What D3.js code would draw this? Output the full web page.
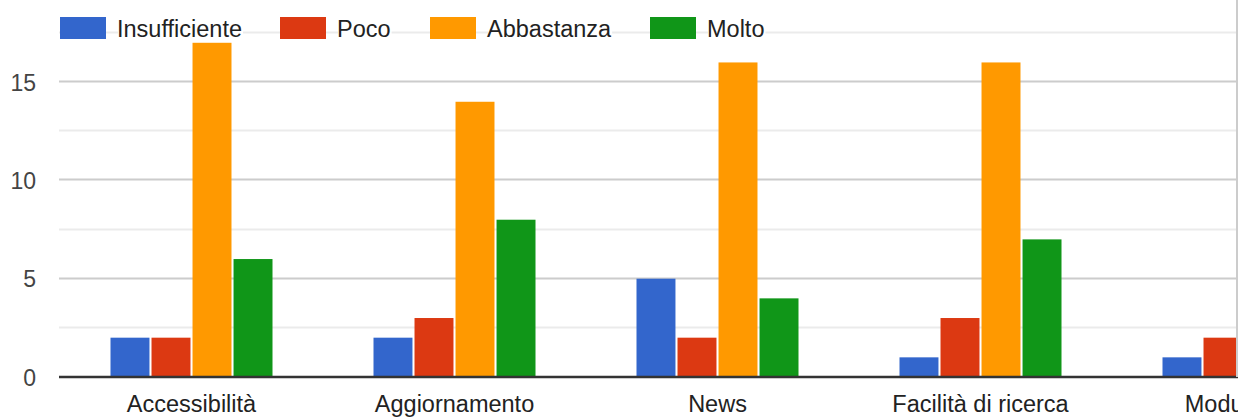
<!DOCTYPE html>
<html>
<head>
<meta charset="utf-8">
<script src="https://cdn.jsdelivr.net/npm/d3@7"></script>
<style>
  html, body { margin: 0; padding: 0; background: #fff; overflow: hidden; }
  svg { display: block; font-family: Arial, "Liberation Sans", sans-serif; }
</style>
</head>
<body>
<div id="chart"></div>
<script>
const categories = ["Accessibilità", "Aggiornamento", "News", "Facilità di ricerca", "Modulistica"];
const series = ["Insufficiente", "Poco", "Abbastanza", "Molto"];
const insufficiente = [2, 2, 5, 1, 1];
const poco = [2, 3, 2, 3, 2];
const abbastanza = [17, 14, 16, 16, 14];
const molto = [6, 8, 4, 7, 6];
const colors = ["#3366cc", "#dc3912", "#ff9900", "#109618"];
const majorTicks = [0, 5, 10, 15];
const minorTicks = [2.5, 7.5, 12.5, 17.5];

(function () {
const values = [insufficiente, poco, abbastanza, molto];
const W = 1238, H = 417;
const plotLeft = 60, plotBottom = 377, band = 263;
const FONT = "Arial, 'Liberation Sans', sans-serif";

const svg = d3.select("#chart").append("svg").attr("width", W).attr("height", H);

const x = d3.scaleBand().domain(categories).range([plotLeft, plotLeft + band * categories.length]).padding(0);
const y = d3.scaleLinear().domain([0, 17.5]).range([plotBottom, plotBottom - 17.5 * 19.66]);
const xs = d3.scaleBand().domain(series).range([-81, 81]).paddingInner(0.05);

// minor gridlines
svg.append("g").selectAll("line").data(minorTicks).join("line")
  .attr("x1", plotLeft - 1).attr("x2", W)
  .attr("y1", d => Math.round(y(d)) - 0.5).attr("y2", d => Math.round(y(d)) - 0.5)
  .attr("stroke", "#ebebeb").attr("stroke-width", 2);

// major gridlines
svg.append("g").selectAll("line").data(majorTicks.filter(d => d > 0)).join("line")
  .attr("x1", plotLeft - 1).attr("x2", W)
  .attr("y1", d => Math.round(y(d)) - 0.5).attr("y2", d => Math.round(y(d)) - 0.5)
  .attr("stroke", "#cccccc").attr("stroke-width", 2);

// y axis labels
const yAxis = d3.axisLeft(y).tickValues(majorTicks).tickSize(0).tickPadding(0).tickFormat(d3.format("d"));
const ya = svg.append("g").attr("transform", `translate(36,0)`).call(yAxis);
ya.select(".domain").remove();
ya.selectAll("text").attr("font-size", 23).attr("fill", "#444").attr("font-family", FONT).attr("dy", "0.36em");

// bars
const groups = svg.append("g").selectAll("g").data(categories).join("g")
  .attr("transform", c => `translate(${x(c) + x.bandwidth() / 2},0)`);
groups.selectAll("rect").data((c, i) => series.map((s, j) => ({ s, j, v: values[j][i] }))).join("rect")
  .attr("x", d => xs(d.s)).attr("width", xs.bandwidth())
  .attr("y", d => y(d.v)).attr("height", d => plotBottom - y(d.v))
  .attr("fill", d => colors[d.j]);

// baseline
svg.append("line").attr("x1", plotLeft - 1).attr("x2", W).attr("y1", plotBottom).attr("y2", plotBottom)
  .attr("stroke", "#333").attr("stroke-width", 2.5);

// x axis labels
const xAxis = d3.axisBottom(x).tickSize(0).tickPadding(0);
const xa = svg.append("g").attr("transform", `translate(0,${plotBottom})`).call(xAxis);
xa.select(".domain").remove();
xa.selectAll("text").attr("font-size", 23.5).attr("fill", "#222").attr("font-family", FONT)
  .attr("dy", null).attr("y", 35);

// right border line
svg.append("line").attr("x1", 1237).attr("x2", 1237).attr("y1", 0).attr("y2", plotBottom)
  .attr("stroke", "#cccccc").attr("stroke-width", 2);

// legend
const legendX = [60, 280, 430, 650];
const lg = svg.append("g").selectAll("g").data(series).join("g")
  .attr("transform", (d, i) => `translate(${legendX[i]},17)`);
lg.append("rect").attr("class", "bg").attr("x", 58).attr("y", 0).attr("height", 24)
  .attr("width", 100).attr("fill", "#fff");
lg.append("rect").attr("width", 46).attr("height", 22).attr("fill", (d, i) => colors[i]);
lg.append("text").attr("x", 57).attr("y", 19.5).attr("font-size", 23.5).attr("fill", "#222")
  .attr("font-family", FONT).text(d => d);
lg.each(function () {
  const g = d3.select(this);
  const tw = g.select("text").node().getComputedTextLength();
  g.select("rect.bg").attr("width", tw);
});
})();
</script>
</body>
</html>
